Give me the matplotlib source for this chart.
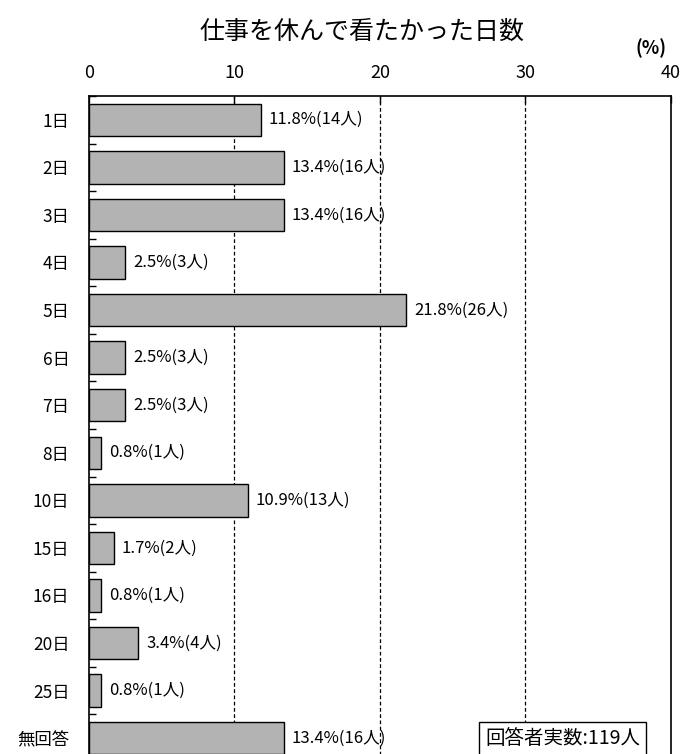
import matplotlib
matplotlib.use('Agg')
import matplotlib.pyplot as plt
import numpy as np

plt.rcParams['font.family'] = ['Noto Sans CJK JP', 'DejaVu Sans']

# データ
categories = ['1日', '2日', '3日', '4日', '5日', '6日', '7日', '8日',
              '10日', '15日', '16日', '20日', '25日', '無回答']
percents = [11.8, 13.4, 13.4, 2.5, 21.8, 2.5, 2.5, 0.8, 10.9, 1.7, 0.8, 3.4, 0.8, 13.4]
counts = [14, 16, 16, 3, 26, 3, 3, 1, 13, 2, 1, 4, 1, 16]
total_n = 119

fig = plt.figure(figsize=(6.96, 7.54), dpi=100)
ax = fig.add_axes([0.1279, -0.0106, 0.836, 0.8833])

y = np.arange(len(categories))
ax.barh(y, percents, height=0.68, color='#b3b3b3', edgecolor='black', linewidth=1.0, zorder=3)

for yi, p, c in zip(y, percents, counts):
    ax.text(p + 0.55, yi, f'{p:.1f}%({c}人)', va='center', ha='left', fontsize=12, zorder=4)

ax.set_xlim(0, 40)
ax.set_ylim(len(categories) - 0.5, -0.5)

# 目盛り
ax.xaxis.tick_top()
ax.set_xticks([0, 10, 20, 30, 40])
ax.set_xticklabels(['0', '10', '20', '30', '40'], fontsize=13)
ax.tick_params(axis='x', direction='in', length=5, width=1, pad=10)
for xv in [10, 20, 30]:
    ax.axvline(xv, color='black', linestyle=(0, (3, 2)), linewidth=0.9, zorder=1)

ax.set_yticks(y)
ax.set_yticklabels(categories, fontsize=12.5)
ax.tick_params(axis='y', length=0, pad=14)
ax.set_yticks(np.arange(len(categories) + 1) - 0.5, minor=True)
ax.tick_params(axis='y', which='minor', direction='in', length=5, width=1)

for s in ax.spines.values():
    s.set_linewidth(1.2)
ax.spines['bottom'].set_visible(False)

fig.text(0.52, 0.958, '仕事を休んで看たかった日数', ha='center', va='center', fontsize=18)
fig.text(0.935, 0.936, '(%)', ha='center', va='center', fontsize=13, fontweight='bold')

ax.text(0.814, 13, f'回答者実数:{total_n}人', transform=ax.get_yaxis_transform(),
        ha='center', va='center', fontsize=14,
        bbox=dict(boxstyle='square,pad=0.3', facecolor='white', edgecolor='black', linewidth=1.0),
        zorder=5)

plt.savefig('out.png', dpi=100)
